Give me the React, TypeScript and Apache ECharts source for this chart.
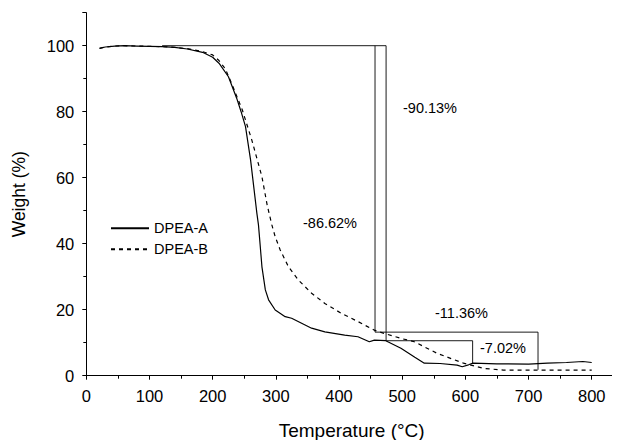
import React, { useEffect, useRef } from "react";
import * as echarts from "echarts";

const seriesNames = ["DPEA-A", "DPEA-B"];

const dpeaA: [number, number][] = [
  [21, 99.2], [30, 99.6], [45, 99.9], [60, 100], [80, 99.9], [100, 99.8], [120, 99.7],
  [140, 99.5], [160, 99.0], [184, 98.0], [200, 96.5], [210, 94.7], [225, 90.6],
  [238, 84.1], [245, 80.0], [252, 75.5], [260, 65.4], [265, 57.3], [270, 49.2],
  [272.5, 45.7], [275, 40], [278, 33.0], [283.4, 26.0], [288.5, 23.0], [299, 19.9],
  [314.8, 17.9], [325, 17.4], [340.8, 15.9], [356.6, 14.4], [377.6, 13.3], [409, 12.3],
  [430, 11.8], [448, 10.3], [456, 10.8], [474, 10.6], [498, 8.3], [520, 5.6],
  [535, 3.8], [560, 3.7], [587, 3.2], [595, 2.7], [605, 3.3], [612, 3.8], [650, 3.6],
  [700, 3.5], [730, 3.8], [760, 4.0], [786, 4.3], [800, 4.0],
];

const dpeaB: [number, number][] = [
  [21, 99.2], [30, 99.6], [45, 99.9], [60, 100], [80, 99.9], [100, 99.8], [120, 99.7],
  [140, 99.5], [160, 99.1], [184, 98.2], [200, 97.2], [210, 95.5], [220, 93.0],
  [231, 88.1], [247, 80.5], [262, 71.4], [278, 60.3], [286.3, 51.7], [293.7, 45.7],
  [299, 42.1], [306.9, 38.1], [320, 33.0], [335.6, 29.0], [356.6, 25.0], [377.6, 21.9],
  [403.7, 18.9], [430, 16.4], [456, 13.8], [471.8, 12.8], [498, 11.3], [519, 10.3],
  [555, 6.8], [597, 3.8], [629, 2.2], [660, 1.7], [700, 1.7], [750, 1.7], [800, 1.7],
];

// step annotation outlines (temperature, weight)
const stepB1: [number, number][] = [[120, 100], [457, 100], [457, 13.2]];
const stepA1: [number, number][] = [[457, 100], [474.5, 100], [474.5, 10.6]];
const stepB2: [number, number][] = [[457, 13.2], [715, 13.2], [715, 1.8]];
const stepA2: [number, number][] = [[474.5, 10.6], [611.5, 10.6], [611.5, 3.6]];

const annotations = [
  { text: "-90.13%", x: 403, y: 108 },
  { text: "-86.62%", x: 303, y: 223 },
  { text: "-11.36%", x: 435, y: 313 },
  { text: "-7.02%", x: 480, y: 348 },
];

const xTicks = { min: 0, max: 840, interval: 100 };
const yTicks = { min: 0, max: 110, interval: 20 };

const FONT = "Liberation Sans, Arial, sans-serif";

export default function App() {
  const ref = useRef<HTMLDivElement>(null);
  useEffect(() => {
    if (!ref.current) return;
    const chart = echarts.init(ref.current, undefined, { renderer: "svg" });
    const outline = (data: [number, number][]) => ({
      type: "line",
      data,
      symbol: "none",
      silent: true,
      lineStyle: { color: "#000", width: 0.9 },
      z: 1,
    });
    chart.setOption({
      animation: false,
      backgroundColor: "#fff",
      textStyle: { fontFamily: FONT },
      grid: { left: 86.3, top: 12.7, width: 535, height: 363 },
      legend: {
        data: seriesNames,
        orient: "vertical",
        left: 110,
        top: 220.7,
        padding: 0,
        itemWidth: 38,
        itemHeight: 14,
        itemGap: 6,
        itemStyle: { color: "transparent", borderColor: "transparent", borderWidth: 0, opacity: 0 },
        textStyle: { fontSize: 14.5, color: "#000", fontFamily: FONT },
      },
      xAxis: {
        type: "value",
        min: xTicks.min,
        max: xTicks.max,
        interval: xTicks.interval,
        name: "Temperature (°C)",
        nameLocation: "middle",
        nameGap: 45,
        nameTextStyle: { fontSize: 19, color: "#000", fontFamily: FONT },
        axisLine: { lineStyle: { color: "#000", width: 1 } },
        axisTick: { show: true, inside: false, length: 4, lineStyle: { color: "#000" } },
        minorTick: { show: true, splitNumber: 2, length: 3, lineStyle: { color: "#000" } },
        splitLine: { show: false },
        axisLabel: {
          fontSize: 16.5,
          color: "#000",
          margin: 12,
          fontFamily: FONT,
          formatter: (v: number) => (v % 100 === 0 && v <= 800 ? String(v) : ""),
        },
      },
      yAxis: {
        type: "value",
        min: yTicks.min,
        max: yTicks.max,
        interval: yTicks.interval,
        name: "Weight (%)",
        nameLocation: "middle",
        nameGap: 58,
        nameTextStyle: { fontSize: 17.5, color: "#000", fontFamily: FONT },
        axisLine: { show: true, lineStyle: { color: "#000", width: 1 } },
        axisTick: { show: true, inside: false, length: 4, lineStyle: { color: "#000" } },
        minorTick: { show: true, splitNumber: 2, length: 3, lineStyle: { color: "#000" } },
        splitLine: { show: false },
        axisLabel: {
          fontSize: 16.5,
          color: "#000",
          margin: 12,
          fontFamily: FONT,
          formatter: (v: number) => (v % 20 === 0 && v <= 100 ? String(v) : ""),
        },
      },
      series: [
        {
          name: seriesNames[0],
          type: "line",
          data: dpeaA,
          symbol: "none",
          lineStyle: { color: "#000", width: 1.2, type: "solid" },
          itemStyle: { color: "#000" },
          z: 3,
        },
        {
          name: seriesNames[1],
          type: "line",
          data: dpeaB,
          symbol: "none",
          lineStyle: { color: "#000", width: 1.2, type: [4, 4] },
          itemStyle: { color: "#000" },
          z: 3,
        },
        outline(stepB1),
        outline(stepA1),
        outline(stepB2),
        outline(stepA2),
      ],
      graphic: annotations.map((a) => ({
        type: "text",
        left: a.x,
        top: a.y - 8,
        silent: true,
        style: { text: a.text, fontSize: 14.5, fill: "#000", fontFamily: FONT },
      })),
    });
    return () => chart.dispose();
  }, []);
  return <div ref={ref} style={{ width: 620, height: 448, margin: -8 }} />;
}
